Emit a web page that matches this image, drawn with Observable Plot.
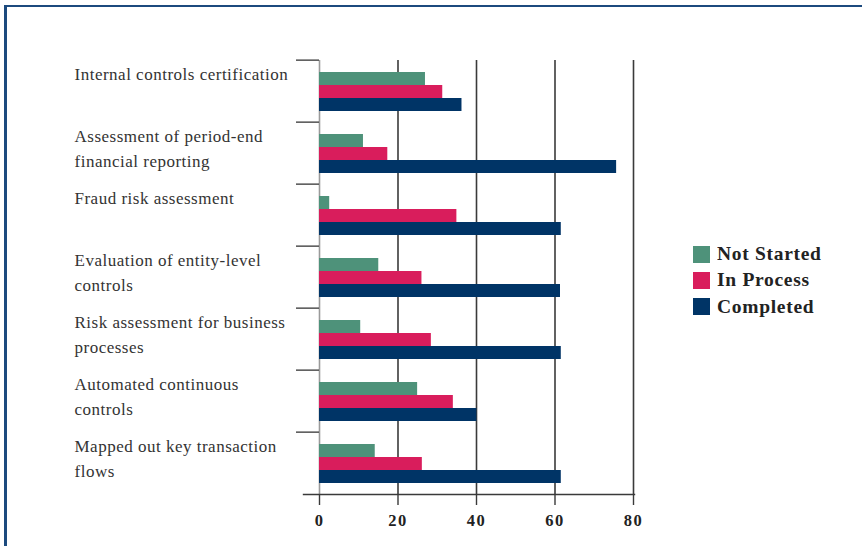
<!DOCTYPE html>
<html>
<head>
<meta charset="utf-8">
<script src="https://cdn.jsdelivr.net/npm/d3@7"></script>
<script src="https://cdn.jsdelivr.net/npm/@observablehq/plot@0.6"></script>
<style>
  html, body { margin: 0; padding: 0; background: #fff; }
  #wrap { position: relative; width: 862px; height: 546px; overflow: hidden; }
  #frame { position: absolute; left: 4px; top: 5px; width: 900px; height: 600px;
           border-top: 2px solid #1c4a7e; border-left: 3px solid #1c4a7e; }
  #chart { position: absolute; left: 0; top: 0; }
  #legend { position: absolute; left: 693px; top: 241px; }
  [aria-label="fy-axis tick label"] text { letter-spacing: 0.5px; }
  [aria-label="x-axis tick label"] text { letter-spacing: 1.5px; }
  .leg-swatches { font-family: "Liberation Serif", serif; font-weight: bold; font-size: 19.5px;
                  letter-spacing: 0.7px; color: #222; margin: 0 !important; }
  .leg-swatch { height: 26.3px; padding: 0 !important; display: flex; align-items: center; }
  .leg-swatch svg { margin-right: 7px !important; }
</style>
</head>
<body>
<div id="wrap">
  <div id="frame"></div>
  <div id="chart"></div>
  <div id="legend"></div>
</div>
<script>
const categories = [
  "Internal controls certification",
  "Assessment of period-end financial reporting",
  "Fraud risk assessment",
  "Evaluation of entity-level controls",
  "Risk assessment for business processes",
  "Automated continuous controls",
  "Mapped out key transaction flows"
];
const categoryLabels = [
  "Internal controls certification",
  "Assessment of period-end\nfinancial reporting",
  "Fraud risk assessment",
  "Evaluation of entity-level\ncontrols",
  "Risk assessment for business\nprocesses",
  "Automated continuous\ncontrols",
  "Mapped out key transaction\nflows"
];
const statuses = ["Not Started", "In Process", "Completed"];
const notStarted = [27.0, 11.2, 2.6, 15.1, 10.5, 25.0, 14.2];
const inProcess  = [31.4, 17.4, 35.0, 26.1, 28.5, 34.1, 26.2];
const completed  = [36.3, 75.7, 61.6, 61.4, 61.6, 40.1, 61.6];
const xTicks = [0, 20, 40, 60, 80];
const statusColors = ["#4e927a", "#d91d5c", "#003466"];

const series = [notStarted, inProcess, completed];
const rows = categories.flatMap((c, i) =>
  statuses.map((s, j) => ({category: c, status: s, value: series[j][i]})));
const labelOf = new Map(categories.map((c, i) => [c, categoryLabels[i]]));

const W = 862, H = 546, mTop = 57, mBottom = 50;
const bandH = (H - mTop - mBottom) / categories.length;

const chart = Plot.plot({
  width: W, height: H,
  marginLeft: 319, marginRight: 229, marginTop: mTop, marginBottom: mBottom,
  style: {fontFamily: "'Liberation Serif', serif", background: "transparent", color: "#333"},
  x: {domain: [0, 80], axis: null},
  y: {domain: statuses, paddingInner: 0, paddingOuter: 0.75, axis: null},
  fy: {domain: categories, padding: 0, axis: null},
  color: {domain: statuses, range: statusColors},
  marks: [
    Plot.ruleX(xTicks.filter(d => d > 0), {stroke: "#3a3a3a", strokeWidth: 1.6}),
    Plot.ruleX([0], {stroke: "#9a9a9a", strokeWidth: 1.6}),
    Plot.barX(rows, {fy: "category", y: "status", x: "value", fill: "status"}),
    Plot.frame({anchor: "bottom", facetAnchor: "bottom", stroke: "#3a3a3a", strokeWidth: 1.4, insetLeft: -16, insetRight: -1}),
    Plot.axisFy({anchor: "left", tickSize: 23, fill: "none", stroke: "#444", strokeWidth: 1.4, dy: -bandH / 2, label: null}),
    Plot.axisFy({anchor: "left", tickSize: 0, tickPadding: 0, textAnchor: "start", lineAnchor: "top",
                 dx: 74 - 319, dy: -30, lineHeight: 1.5, fontSize: 17, fill: "#333",
                 tickFormat: c => labelOf.get(c), label: null}),
    Plot.axisX(xTicks, {anchor: "bottom", tickSize: 11, tickPadding: 9, stroke: "#3a3a3a", strokeWidth: 1.4,
                        fontSize: 16.5, fontWeight: "bold", fill: "#222", label: null})
  ]
});
document.getElementById("chart").appendChild(chart);

const legend = chart.legend("color", {legend: "swatches", columns: 1, swatchSize: 17, className: "leg"});
document.getElementById("legend").appendChild(legend);
</script>
</body>
</html>
